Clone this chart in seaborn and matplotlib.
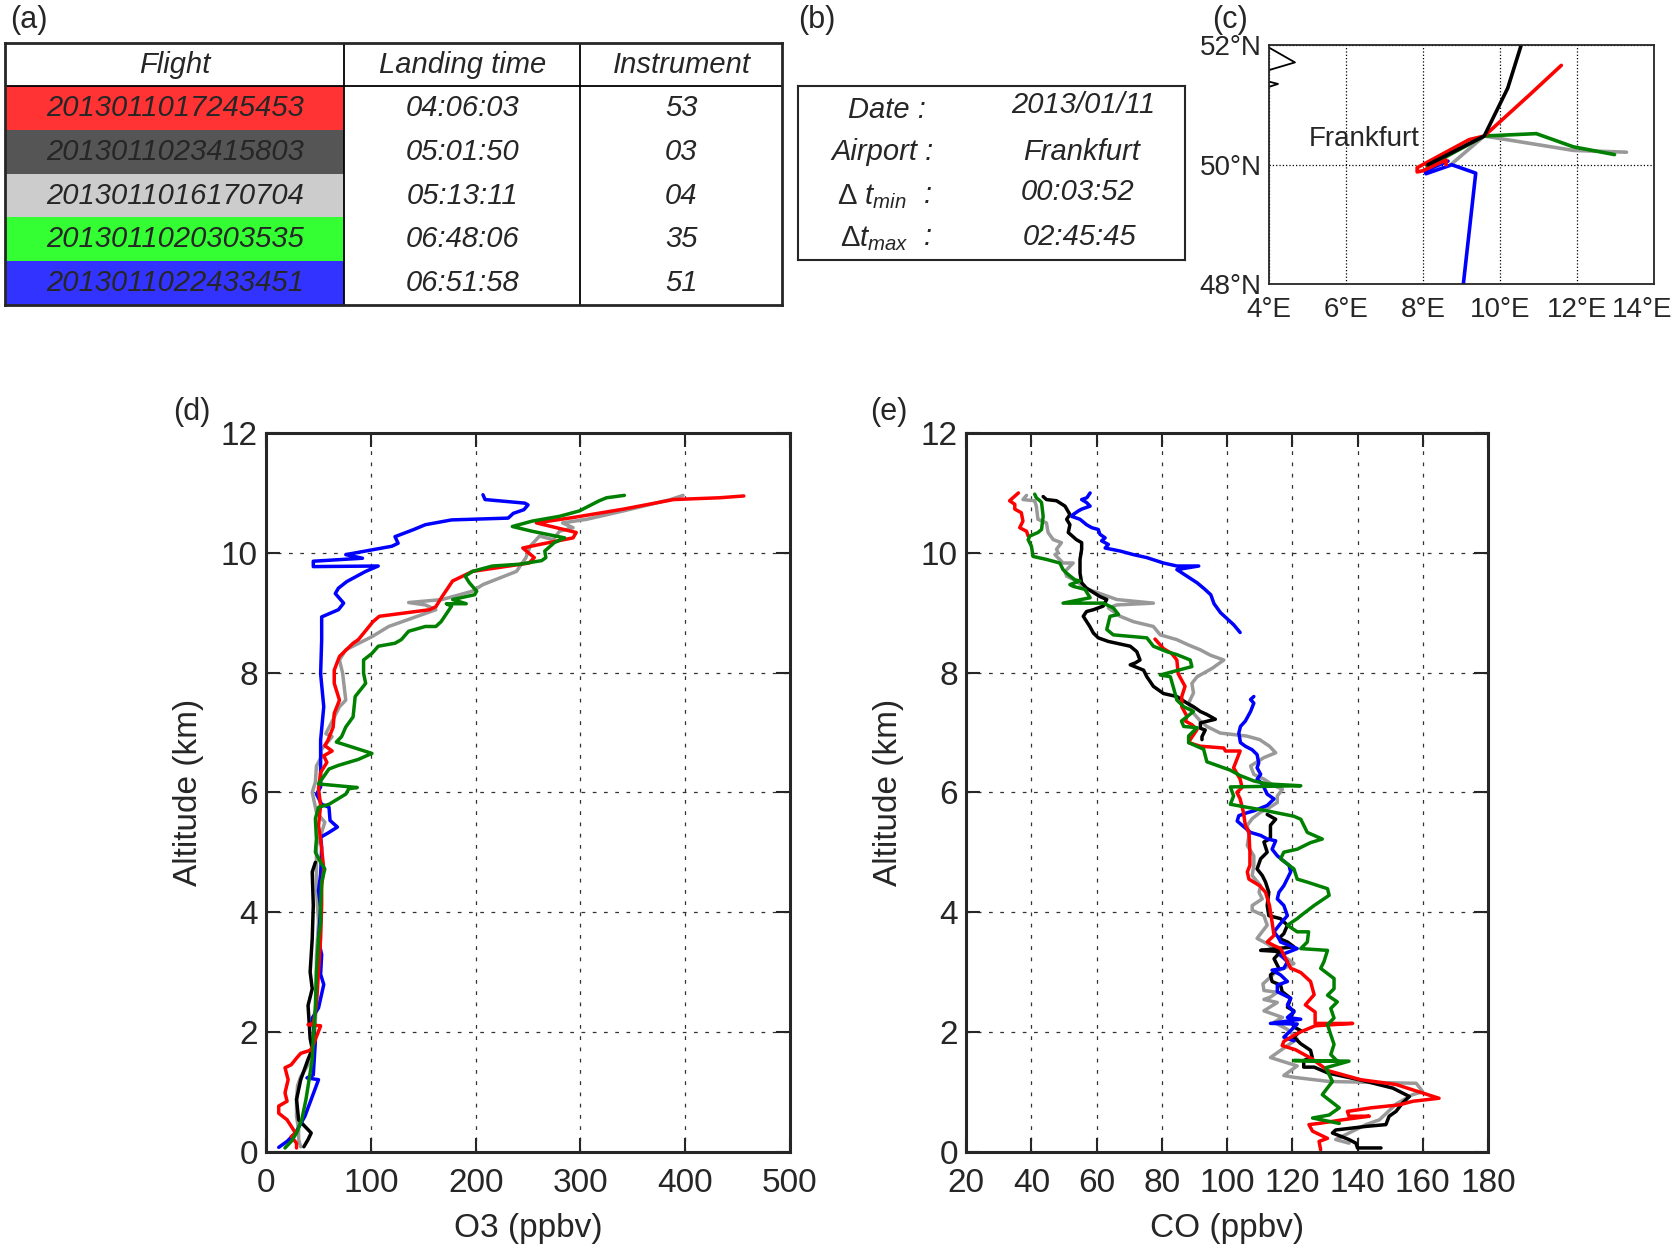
import numpy as np
import pandas as pd
import matplotlib
matplotlib.use('Agg')
import matplotlib.pyplot as plt
from matplotlib.transforms import ScaledTranslation
import seaborn as sns

# ---- table (a) ----
col_labels = ['Flight', 'Landing time', 'Instrument']
flight_ids = ['2013011017245453', '2013011023415803', '2013011016170704',
              '2013011020303535', '2013011022433451']
landing_times = ['04:06:03', '05:01:50', '05:13:11', '06:48:06', '06:51:58']
instruments = ['53', '03', '04', '35', '51']
row_colours = ['#ff3333', '#555555', '#cccccc', '#33ff33', '#3333ff']

# ---- box (b) ----
date_str = '2013/01/11'
airport = 'Frankfurt'
dt_min = '00:03:52'
dt_max = '02:45:45'

# line colour of each flight
colours = {'red': '#ff0000', 'black': '#000000', 'gray': '#999999',
           'green': '#008000', 'blue': '#0000ff'}

# ---- map (c): tracks as (lon, lat) ----
track_black = [(8.13, 50.0), (9.59, 50.48), (10.2, 51.28), (10.55, 52.0), (10.65, 52.3)]
track_red = [(11.59, 51.66), (10.77, 51.17), (9.59, 50.48), (9.2, 50.42), (7.85, 49.95),
             (7.85, 49.88), (8.0, 49.9), (8.6, 50.08), (8.6, 50.0)]
track_green = [(8.11, 49.97), (8.5, 50.1), (9.59, 50.48), (10.94, 50.52), (11.9, 50.3),
               (12.97, 50.17)]
track_gray = [(8.72, 50.0), (9.59, 50.48), (11.9, 50.24), (13.28, 50.21)]
track_blue = [(8.65, 50.06), (8.05, 49.9), (8.08, 49.85), (8.75, 50.0), (9.37, 49.86),
              (9.03, 47.9)]
coast_a = [(4.0, 51.96), (4.68, 51.71), (4.0, 51.58)]
coast_b = [(4.0, 51.39), (4.24, 51.35), (4.0, 51.3)]

# ---- O3 profiles (ppbv, km) ----
o3_red = [(456, 10.95), (433, 10.92), (389, 10.89), (341, 10.73), (293, 10.59), (258, 10.5),
          (296, 10.34), (293, 10.25), (261, 10.14), (245, 10.08), (256, 9.92), (251, 9.83),
          (197, 9.69), (178, 9.53), (168, 9.27), (162, 9.1), (156, 9.05), (108, 8.94),
          (102, 8.85), (88, 8.55), (83, 8.49), (70, 8.27), (65, 8.04), (65, 7.82), (70, 7.54),
          (65, 7.32), (64, 7.09), (59, 6.87), (56, 6.78), (63, 6.69), (55, 6.61), (58, 6.5),
          (52, 6.33), (50, 6.06), (52, 5.78), (50, 5.44), (52, 5.22), (55, 4.72), (53, 4.44),
          (53, 4.11), (52, 3.56), (50, 3.0), (48, 2.44), (45, 2.14), (40, 2.12), (52, 2.1),
          (45, 1.78), (42, 1.69), (33, 1.64), (29, 1.56), (24, 1.45), (18, 1.4), (21, 1.2),
          (18, 0.98), (20, 0.84), (12, 0.76), (12, 0.64), (20, 0.53), (24, 0.42), (28, 0.31),
          (24, 0.25), (29, 0.14), (29, 0.06)]
o3_gray = [(398, 10.96), (386, 10.89), (341, 10.7), (306, 10.56), (283, 10.5), (293, 10.42),
           (280, 10.36), (274, 10.22), (261, 10.28), (252, 10.11), (248, 9.92), (239, 9.69),
           (207, 9.47), (197, 9.36), (168, 9.22), (136, 9.17), (152, 9.13), (162, 9.05),
           (117, 8.77), (101, 8.6), (76, 8.38), (70, 8.21), (73, 7.99), (76, 7.54), (70, 7.43),
           (62, 7.15), (57, 6.98), (63, 6.93), (52, 6.7), (53, 6.6), (48, 6.44), (47, 6.17),
           (44, 6.0), (48, 5.67), (56, 5.5), (53, 5.33), (48, 5.11), (48, 4.78), (48, 4.39),
           (50, 3.83), (48, 3.28), (48, 2.72), (47, 2.17), (45, 1.61), (40, 1.45), (33, 1.25),
           (30, 1.1), (29, 0.87), (29, 0.59), (31, 0.36), (31, 0.2), (33, 0.08)]
o3_black = [(47, 4.83), (44, 4.67), (45, 4.11), (44, 3.56), (42, 3.0), (44, 2.72), (40, 2.44),
            (42, 1.89), (44, 1.71), (40, 1.54), (33, 1.2), (29, 0.87), (31, 0.53), (37, 0.42),
            (43, 0.31), (40, 0.2), (36, 0.08)]
o3_green = [(342, 10.96), (325, 10.92), (318, 10.87), (299, 10.7), (280, 10.61), (254, 10.53),
            (235, 10.44), (254, 10.36), (285, 10.25), (275, 10.17), (266, 10.03), (267, 9.92),
            (263, 9.87), (242, 9.81), (216, 9.78), (197, 9.69), (190, 9.61), (194, 9.5),
            (201, 9.36), (199, 9.3), (178, 9.22), (191, 9.15), (172, 9.15), (177, 9.11),
            (167, 8.85), (162, 8.77), (152, 8.77), (136, 8.69), (129, 8.55), (123, 8.49),
            (107, 8.44), (101, 8.32), (93, 8.21), (93, 7.99), (95, 7.82), (85, 7.6), (83, 7.26),
            (76, 7.09), (72, 6.93), (67, 6.84), (101, 6.65), (88, 6.55), (69, 6.45), (60, 6.39),
            (50, 6.14), (87, 6.08), (79, 6.06), (76, 5.97), (60, 5.8), (50, 5.75), (47, 5.56),
            (48, 5.22), (47, 5.0), (52, 4.83), (56, 4.72), (53, 4.5), (52, 4.11), (52, 3.83),
            (50, 3.56), (48, 3.0), (47, 2.44), (46, 2.1), (45, 1.89), (44, 1.54), (40, 1.09),
            (38, 0.87), (34, 0.53), (29, 0.31), (24, 0.17), (18, 0.06)]
o3_blue = [(207, 10.97), (209, 10.89), (247, 10.83), (250, 10.8), (246, 10.72), (236, 10.66),
           (231, 10.58), (177, 10.55), (152, 10.47), (141, 10.39), (123, 10.27), (126, 10.16),
           (120, 10.11), (76, 9.97), (92, 9.91), (45, 9.86), (45, 9.77), (107, 9.78), (95, 9.69),
           (77, 9.52), (69, 9.41), (66, 9.32), (74, 9.16), (69, 9.05), (53, 8.93), (53, 8.54),
           (52, 7.98), (55, 7.43), (52, 6.87), (52, 6.09), (48, 5.97), (53, 5.8), (60, 5.75),
           (61, 5.53), (68, 5.42), (60, 5.33), (52, 5.25), (53, 5.08), (52, 4.63), (50, 4.36),
           (52, 4.08), (50, 3.52), (53, 3.29), (52, 2.96), (55, 2.79), (50, 2.4), (44, 2.23),
           (47, 1.84), (45, 1.28), (39, 1.23), (50, 1.2), (43, 0.87), (37, 0.59), (28, 0.31),
           (20, 0.17), (12, 0.07)]

# ---- CO profiles (ppbv, km); gaps split into separate pieces ----
co_red_top = [(36, 11.0), (33.3, 10.87), (34.9, 10.81), (34.9, 10.73), (36.9, 10.67),
              (37.4, 10.53), (36.4, 10.42), (38.5, 10.36), (39, 10.28)]
co_red_low = [(77.9, 8.56), (80.5, 8.4), (83, 8.32), (84.6, 8.21), (85, 7.98), (87.1, 7.77),
              (86.1, 7.6), (86.1, 7.43), (87.7, 7.27), (87.2, 7.19), (89.2, 7.13), (90.8, 7.05),
              (88.7, 6.88), (88.2, 6.83), (91.8, 6.77), (99, 6.74), (99.5, 6.69), (104, 6.69),
              (102, 6.41), (104, 6.22), (104.6, 6.08), (103, 6.0), (104, 5.89), (105, 5.67),
              (105.6, 5.45), (106.7, 5.33), (107, 5.0), (107, 4.78), (106.2, 4.67), (106.7, 4.55),
              (110, 4.44), (111.8, 4.33), (113, 4.11), (113.8, 3.83), (114.4, 3.61), (112.3, 3.5),
              (114.4, 3.44), (116.4, 3.39), (119.5, 3.06), (120.5, 3.04), (122.6, 2.99),
              (125.6, 2.84), (126.7, 2.62), (124, 2.45), (127, 2.33), (127, 2.14), (138.5, 2.14),
              (127, 2.1), (122.6, 2.0), (120.5, 1.94), (117.4, 1.84), (116.9, 1.77), (121, 1.7),
              (126, 1.55), (131, 1.35), (141, 1.2), (151.8, 1.12), (165, 0.89), (157, 0.84),
              (152.8, 0.78), (144.1, 0.73), (136.9, 0.67), (137.4, 0.59), (143.6, 0.59),
              (135.4, 0.53), (128.2, 0.47), (125.1, 0.45), (126.2, 0.34), (130.8, 0.22),
              (128.2, 0.17), (128.7, 0.03)]
co_gray = [(38.5, 10.96), (37.4, 10.89), (41, 10.87), (41.5, 10.78), (42, 10.56), (44.6, 10.5),
           (45.1, 10.34), (46.7, 10.22), (49.2, 10.17), (47.7, 10.06), (48.2, 10.0), (47.2, 9.97),
           (49.7, 9.83), (52.8, 9.83), (50.3, 9.69), (50.8, 9.61), (53.8, 9.53), (56.4, 9.41),
           (60.5, 9.33), (66.2, 9.22), (77.4, 9.16), (66.2, 9.13), (63.6, 9.08), (67.2, 8.94),
           (71.3, 8.85), (77.4, 8.77), (79.5, 8.63), (84.6, 8.55), (88.2, 8.46), (91.8, 8.38),
           (94.9, 8.29), (99, 8.21), (95.4, 8.07), (90.8, 7.93), (89.2, 7.82), (89.7, 7.66),
           (88.2, 7.49), (89.7, 7.32), (91.8, 7.19), (93.8, 7.1), (97.9, 6.99), (106, 6.94),
           (110, 6.88), (113, 6.77), (114.9, 6.66), (111.3, 6.58), (107.2, 6.44), (108.2, 6.3),
           (111.3, 6.22), (114.4, 6.11), (117, 6.05), (115.4, 5.94), (115.4, 5.83), (112.3, 5.72),
           (110.3, 5.67), (107.7, 5.56), (106.2, 5.45), (106.7, 5.28), (106.2, 5.11),
           (108.2, 4.94), (108.2, 4.78), (107.7, 4.61), (110.3, 4.44), (109.8, 4.33),
           (110.8, 4.22), (107.7, 4.11), (107.7, 4.03), (111.3, 3.94), (112.3, 3.78),
           (110.3, 3.64), (109.2, 3.56), (112.3, 3.47), (114.4, 3.39), (115.9, 3.28),
           (118.5, 3.22), (120.5, 3.14), (115, 3.0), (111, 2.8), (111.3, 2.69), (115.4, 2.66),
           (113.3, 2.58), (111.3, 2.54), (115.4, 2.49), (111.3, 2.35), (117, 2.24), (114.4, 2.16),
           (118.5, 2.04), (121.5, 1.88), (118.5, 1.77), (113.3, 1.57), (121.5, 1.43),
           (117.4, 1.27), (120.5, 1.24), (131.3, 1.17), (158, 1.14), (160, 1.0), (156.9, 0.95),
           (152, 0.8), (146.7, 0.53), (142.6, 0.45), (133.3, 0.2), (137.4, 0.14)]
co_black_top = [(43.6, 10.94), (44.6, 10.89), (47.7, 10.87), (50.3, 10.78), (51.8, 10.64),
                (50.8, 10.56), (51.8, 10.47), (51.3, 10.34), (53.8, 10.22), (55.4, 10.17),
                (55.4, 10.06), (54.9, 9.89), (54.9, 9.66), (55.4, 9.5), (56.9, 9.41), (61, 9.27),
                (63.1, 9.22), (62, 9.11), (59, 9.05), (56.9, 9.02), (55.9, 8.94), (57.9, 8.77),
                (59, 8.66), (60.5, 8.58), (63.6, 8.52), (70.3, 8.44), (72.3, 8.35), (73.3, 8.21),
                (71.8, 8.16), (70.3, 8.13), (74.4, 8.04), (75.4, 7.93), (77.4, 7.77), (80.5, 7.65),
                (84.6, 7.6), (87.7, 7.49), (89.7, 7.43), (91.8, 7.35), (93.8, 7.3), (96.4, 7.22),
                (91.8, 7.16), (91.8, 7.07), (93.3, 7.04), (92.3, 6.93), (92.3, 6.88)]
co_black_low = [(112.3, 5.63), (114.9, 5.55), (113.3, 5.45), (113.3, 5.23), (111.3, 5.17),
                (112.3, 5.0), (110.3, 4.89), (109.2, 4.72), (110.8, 4.61), (111.8, 4.5),
                (112.8, 4.33), (112.3, 4.11), (112.8, 3.94), (116.4, 3.89), (118.5, 3.78),
                (117.4, 3.64), (115.9, 3.56), (118.5, 3.5), (120.5, 3.42), (110.3, 3.36),
                (116.4, 3.34), (114.4, 3.22), (115.9, 3.06), (113.3, 2.95), (113.8, 2.84),
                (116.4, 2.78), (116.9, 2.67), (119.5, 2.56), (118.5, 2.41), (120.5, 2.35),
                (119.5, 2.24), (120.5, 2.08), (122.6, 2.02), (120.5, 1.91), (122.6, 1.8),
                (125.6, 1.69), (126.1, 1.58), (123.5, 1.52), (123.5, 1.41), (126.7, 1.41),
                (131, 1.31), (140.5, 1.2), (150.8, 1.06), (155.9, 0.92), (153.8, 0.81),
                (151.8, 0.67), (149.7, 0.59), (148.7, 0.45), (142.6, 0.42), (133.3, 0.36),
                (132.3, 0.31), (137.4, 0.2), (139.5, 0.14), (140, 0.06), (147.2, 0.06)]
co_blue_top = [(58, 11.0), (57, 10.92), (55.4, 10.89), (56.9, 10.84), (58, 10.78), (55.4, 10.73),
               (54.4, 10.7), (52.8, 10.64), (52.3, 10.61), (54.9, 10.56), (56.9, 10.47),
               (58.5, 10.42), (60.5, 10.39), (61, 10.31), (62.6, 10.25), (61.5, 10.2),
               (63.6, 10.14), (62.6, 10.08), (67.2, 10.03), (71.3, 9.97), (75.4, 9.92),
               (80.5, 9.83), (84.6, 9.78), (91.3, 9.78), (84.6, 9.72), (87.7, 9.61), (90.8, 9.5),
               (93, 9.4), (95, 9.3), (96, 9.15), (98, 9.0), (101, 8.85), (102, 8.8), (104, 8.67)]
co_blue_low = [(108.2, 7.6), (107.2, 7.55), (108.2, 7.49), (107.2, 7.35), (105.6, 7.19),
               (104.1, 7.1), (103.6, 6.99), (104.1, 6.83), (105.6, 6.77), (107.7, 6.71),
               (109.2, 6.63), (109.7, 6.49), (109.2, 6.41), (110.3, 6.3), (109.2, 6.22),
               (110.8, 6.14), (112.3, 5.97), (114.4, 5.89), (112.3, 5.78), (108.2, 5.69),
               (106.2, 5.66), (103.6, 5.61), (103.1, 5.52), (104.6, 5.45), (107.2, 5.33),
               (110.3, 5.28), (112.3, 5.22), (114.9, 5.19), (113.8, 5.05), (115.4, 4.94),
               (119, 4.78), (119.5, 4.67), (117.4, 4.44), (115.9, 4.33), (115.4, 4.22),
               (117.4, 4.11), (118.5, 3.94), (116.4, 3.81), (114.4, 3.67), (115.9, 3.56),
               (116.4, 3.5), (121.5, 3.39), (116.4, 3.28), (118.5, 3.17), (117.4, 3.06),
               (113.8, 3.03), (116.4, 2.95), (118.5, 2.84), (115.4, 2.78), (115.4, 2.67),
               (119.5, 2.56), (118.5, 2.45), (120.5, 2.33), (118.5, 2.24), (122.6, 2.21),
               (113.3, 2.14), (121.5, 2.13), (119.5, 2.02), (117.4, 1.91), (120.5, 1.85)]
co_green = [(41, 10.98), (41.5, 10.92), (42.6, 10.87), (43.1, 10.84), (43.6, 10.61), (43.1, 10.39),
            (42, 10.34), (39.5, 10.28), (39, 10.22), (40, 10.11), (40.5, 9.94), (44.6, 9.89),
            (48.7, 9.83), (49.7, 9.72), (50.8, 9.66), (53.3, 9.55), (54.9, 9.53), (51.8, 9.47),
            (52.8, 9.44), (56.4, 9.39), (58, 9.25), (49.7, 9.16), (62, 9.16), (65.1, 9.08),
            (66.7, 8.97), (64.1, 8.94), (63.1, 8.72), (65.1, 8.63), (75.4, 8.58), (77.4, 8.44),
            (81.5, 8.35), (84.6, 8.3), (88.7, 8.21), (89.2, 8.1), (79.5, 7.96), (82.6, 7.93),
            (83.6, 7.74), (84.6, 7.54), (86.7, 7.43), (89.7, 7.35), (86, 7.19), (86.7, 7.1),
            (90.8, 7.08), (88.2, 6.94), (88.2, 6.83), (92.8, 6.72), (93.8, 6.51), (101, 6.37),
            (104, 6.28), (108.2, 6.19), (112.3, 6.14), (122.6, 6.11), (101, 6.09), (102, 5.94),
            (101, 5.8), (112.3, 5.69), (120.5, 5.6), (122.6, 5.55), (124.6, 5.33), (129.2, 5.22),
            (125.6, 5.16), (121.5, 5.05), (117.4, 5.0), (116.4, 4.89), (120.5, 4.72),
            (121.5, 4.55), (124.6, 4.5), (130.8, 4.39), (131.3, 4.28), (126.7, 4.11),
            (122.6, 3.94), (121.5, 3.89), (118.5, 3.78), (121.5, 3.67), (125, 3.67), (124.6, 3.5),
            (122.6, 3.39), (130.8, 3.36), (129.7, 3.17), (128.7, 3.06), (132.8, 2.89),
            (132.8, 2.72), (130.8, 2.61), (133.8, 2.5), (131.8, 2.39), (132.8, 2.23),
            (130.8, 2.12), (131.8, 1.95), (132.8, 1.79), (131.8, 1.62), (133.8, 1.51),
            (120.5, 1.52), (137.4, 1.51), (130.3, 1.4), (132.3, 1.17), (129.2, 0.95),
            (134.4, 0.73), (131.3, 0.61), (126.2, 0.56), (134.4, 0.47)]

sns.set_style('ticks')
plt.rcParams['font.family'] = ['Liberation Sans', 'DejaVu Sans']
plt.rcParams['mathtext.fontset'] = 'custom'
plt.rcParams['mathtext.rm'] = 'Liberation Sans'
plt.rcParams['mathtext.it'] = 'Liberation Sans:italic'
narrow = ['Liberation Sans Narrow', 'Liberation Sans']


def draw(ax, pts, colour, lw=2.5):
    df = pd.DataFrame(pts, columns=['v', 'alt'])
    sns.lineplot(data=df, x='v', y='alt', sort=False, estimator=None,
                 color=colour, lw=lw, ax=ax)


fig = plt.figure(figsize=(16.76, 12.51), dpi=100)

# ---------------- (a) table ----------------
ax_t = fig.add_axes([0.0032, 0.7564, 0.4636, 0.2094])
ax_t.set_xlim(0, 1)
ax_t.set_ylim(0, 1)
ax_t.set_xticks([])
ax_t.set_yticks([])
for s in ax_t.spines.values():
    s.set_linewidth(2)
    s.set_zorder(6)
col_widths = [0.436, 0.304, 0.260]
cell_text = [[f, t, i] for f, t, i in zip(flight_ids, landing_times, instruments)]
cell_cols = [[c, 'white', 'white'] for c in row_colours]
tab = ax_t.table(cellText=cell_text, colLabels=col_labels, cellColours=cell_cols,
                 colWidths=col_widths, cellLoc='center', bbox=[0, 0, 1, 1])
tab.auto_set_font_size(False)
for (r, c), cell in tab.get_celld().items():
    cell.set_linewidth(0)
    cell.get_text().set_fontsize(21)
    cell.get_text().set_fontstyle('italic')
    cell.get_text().set_fontfamily(narrow)
# separators: vertical between columns, one line under the header
for xb in np.cumsum(col_widths)[:-1]:
    ax_t.axvline(xb, color='black', lw=1.3, zorder=5)
ax_t.axhline(1 - 1 / (len(flight_ids) + 1), color='black', lw=1.3, zorder=5)
fig.text(0.006, 0.984, '(a)', fontsize=22, va='center')

# ---------------- (b) info box ----------------
ax_b = fig.add_axes([0.4764, 0.7923, 0.2309, 0.1393])
ax_b.set_xlim(0, 1)
ax_b.set_ylim(0, 1)
ax_b.set_xticks([])
ax_b.set_yticks([])
for s in ax_b.spines.values():
    s.set_linewidth(1.5)
kw = dict(fontsize=21, style='italic', family=narrow, ha='center', va='center')
ax_b.text(0.229, 0.86, 'Date :', **kw)
ax_b.text(0.735, 0.89, date_str, **kw)
ax_b.text(0.218, 0.62, 'Airport :', **kw)
ax_b.text(0.732, 0.62, airport, **kw)
ax_b.text(0.19, 0.36, r'$\Delta\ t_{min}$', **kw)
ax_b.text(0.334, 0.37, ':', **kw)
ax_b.text(0.721, 0.39, dt_min, **kw)
ax_b.text(0.196, 0.12, r'$\Delta t_{max}$', **kw)
ax_b.text(0.334, 0.13, ':', **kw)
ax_b.text(0.726, 0.13, dt_max, **kw)
fig.text(0.476, 0.984, '(b)', fontsize=22, va='center')

# ---------------- (c) map ----------------
ax_m = fig.add_axes([0.757, 0.7726, 0.230, 0.1914])
for pts in (coast_a, coast_b):
    draw(ax_m, pts, 'black', lw=1.3)
for pts, c in ((track_gray, 'gray'), (track_green, 'green'), (track_blue, 'blue'),
               (track_red, 'red'), (track_black, 'black')):
    draw(ax_m, pts, colours[c], lw=2.6)
ax_m.text(5.05, 50.43, 'Frankfurt', fontsize=20, va='center', ha='left', zorder=1)
ax_m.set_xlim(4, 14)
ax_m.set_ylim(48, 52)
ax_m.set_xticks([4, 6, 8, 10, 12, 14])
ax_m.set_xticklabels([f'{v}°E' for v in [4, 6, 8, 10, 12, 14]])
ax_m.set_yticks([48, 50, 52])
ax_m.set_yticklabels([f'{v}°N' for v in [48, 50, 52]])
ax_m.tick_params(axis='x', length=0, labelsize=20, pad=9)
ax_m.tick_params(axis='y', length=0, labelsize=20, pad=5)
last = ax_m.get_xticklabels()[-1]
last.set_transform(last.get_transform() + ScaledTranslation(-0.12, 0, fig.dpi_scale_trans))
ax_m.grid(True, ls=':', color='black', lw=0.9)
ax_m.set_xlabel('')
ax_m.set_ylabel('')
for s in ax_m.spines.values():
    s.set_linewidth(1.3)
fig.text(0.723, 0.984, '(c)', fontsize=22, va='center')

# ---------------- (d) O3 and (e) CO ----------------
ax_d = fig.add_axes([0.1588, 0.0795, 0.3125, 0.5743])
ax_e = fig.add_axes([0.5765, 0.0795, 0.3113, 0.5743])

for pts, c in ((o3_gray, 'gray'), (o3_black, 'black'), (o3_blue, 'blue'),
               (o3_red, 'red'), (o3_green, 'green')):
    draw(ax_d, pts, colours[c])
for pts, c in ((co_gray, 'gray'), (co_black_top, 'black'), (co_black_low, 'black'),
               (co_blue_top, 'blue'), (co_blue_low, 'blue'), (co_red_top, 'red'),
               (co_red_low, 'red'), (co_green, 'green')):
    draw(ax_e, pts, colours[c])

for ax, xlim, xticks, xlabel in ((ax_d, (0, 500), range(0, 501, 100), 'O3 (ppbv)'),
                                 (ax_e, (20, 180), range(20, 181, 20), 'CO (ppbv)')):
    ax.set_xlim(*xlim)
    ax.set_ylim(0, 12)
    ax.set_xticks(list(xticks))
    ax.set_yticks(range(0, 13, 2))
    ax.tick_params(direction='in', length=10, width=1.5, labelsize=24,
                   top=True, right=True)
    ax.tick_params(axis='x', pad=12)
    ax.tick_params(axis='y', pad=6)
    ax.grid(True, ls=(0, (3, 6)), color='#333333', lw=0.9)
    ax.set_xlabel(xlabel, fontsize=24, labelpad=10)
    ax.set_ylabel('Altitude (km)', fontsize=24, labelpad=12)
    for s in ax.spines.values():
        s.set_linewidth(2.2)

fig.text(0.103, 0.671, '(d)', fontsize=22, va='center')
fig.text(0.519, 0.671, '(e)', fontsize=22, va='center')

fig.savefig('out.png', dpi=100)
